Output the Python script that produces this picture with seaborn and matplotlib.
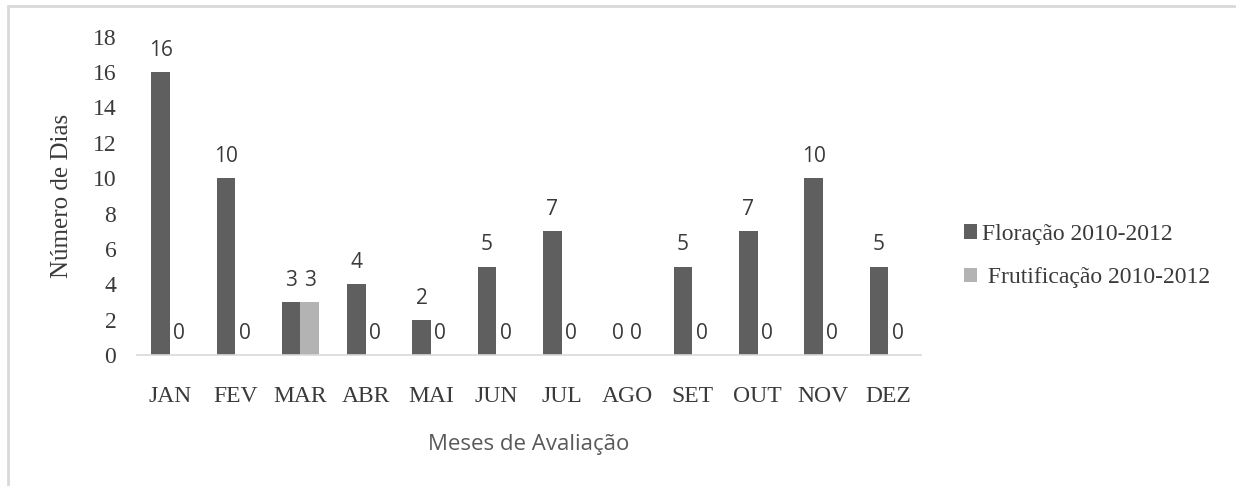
import matplotlib
matplotlib.use("Agg")
import matplotlib.pyplot as plt
import seaborn as sns
import pandas as pd
from matplotlib.patches import Patch

months = ["JAN", "FEV", "MAR", "ABR", "MAI", "JUN", "JUL", "AGO", "SET", "OUT", "NOV", "DEZ"]
floracao = [16, 10, 3, 4, 2, 5, 7, 0, 5, 7, 10, 5]
frutificacao = [0, 0, 3, 0, 0, 0, 0, 0, 0, 0, 0, 0]
series_names = ["Floração 2010-2012", " Frutificação 2010-2012"]
colors = ["#5f5f5f", "#b3b3b3"]
yticks = list(range(0, 19, 2))

df = pd.DataFrame({
    "Mês": months * 2,
    "Dias": floracao + frutificacao,
    "Série": [series_names[0]] * len(months) + [series_names[1]] * len(months),
})

sns.set_theme(style="white")
plt.rcParams["font.family"] = ["Liberation Serif", "DejaVu Serif"]

fig = plt.figure(figsize=(12.36, 4.86), dpi=100)
ax = fig.add_axes([0.111, 0.2695, 0.634, 0.655])

sns.barplot(data=df, x="Mês", y="Dias", hue="Série", hue_order=series_names,
            order=months, palette=colors, width=0.57, gap=0, saturation=1,
            ax=ax, legend=False, linewidth=0)

for cont in ax.containers:
    ax.bar_label(cont, labels=[f"{v:.0f}" for v in cont.datavalues], padding=8,
                 fontsize=15, color="#3a3a3a", family=["Open Sans", "DejaVu Sans"])

ax.set_ylim(0, 18)
ax.set_yticks(yticks)
ax.set_yticklabels([str(t) for t in yticks])
ax.tick_params(axis="y", length=0, pad=15, labelsize=17, labelcolor="#3a3a3a")
ax.tick_params(axis="x", length=0, pad=22, labelsize=17, labelcolor="#3a3a3a")
for s in ["top", "right", "left"]:
    ax.spines[s].set_visible(False)
ax.spines["bottom"].set_color("#d9d9d9")
ax.spines["bottom"].set_linewidth(1.2)

ax.set_ylabel("Número de Dias", fontsize=18, color="#3a3a3a", labelpad=14)
ax.set_xlabel("Meses de Avaliação", fontsize=16, color="#595959",
              family=["Open Sans", "DejaVu Sans"], labelpad=20)

handles = [Patch(facecolor=c, edgecolor="none") for c in colors]
fig.legend(handles, series_names, loc="upper left", bbox_to_anchor=(0.763, 0.583),
           frameon=False, fontsize=17, handlelength=0.55, handleheight=0.55,
           handletextpad=0.2, labelspacing=0.95, labelcolor="#3a3a3a")

fig.patches.append(plt.Rectangle((8 / 1236, -0.1), 1.2, 1 - 6 / 486 + 0.1,
                                 transform=fig.transFigure, fill=False,
                                 edgecolor="#d9d9d9", linewidth=2, figure=fig))

fig.savefig("out.png", dpi=100, facecolor="white")
